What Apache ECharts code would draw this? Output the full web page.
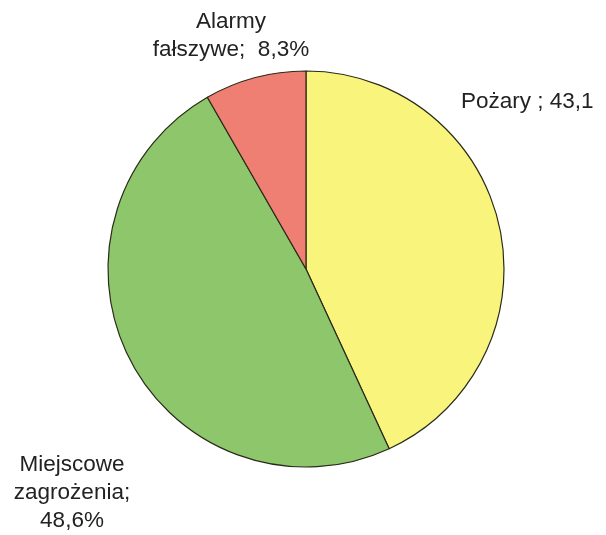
<!DOCTYPE html>
<html><head><meta charset="utf-8">
<script src="https://cdn.jsdelivr.net/npm/echarts@6/dist/echarts.min.js"></script>
<style>html,body{margin:0;padding:0;background:#fff}#c{width:606px;height:535px}</style>
</head><body><div id="c"></div>
<script>
var categories = ['Pożary', 'Miejscowe zagrożenia', 'Alarmy fałszywe'];
var values = [43.1, 48.6, 8.3];
var labelTexts = ['Pożary ; 43,1', 'Miejscowe\nzagrożenia;\n48,6%', 'Alarmy\nfałszywe;  8,3%'];
var colors = ['#f8f47c', '#8ec66b', '#ee7f72'];
var labelPos = [[461, 102, 'left'], [72, 493, 'center'], [231, 36, 'center']];

var chart = echarts.init(document.getElementById('c'));
chart.setOption({
  animation: false,
  series: [{
    type: 'pie',
    center: [306, 269],
    radius: [0, 198],
    startAngle: 90,
    clockwise: true,
    data: categories.map(function (c, i) {
      return { name: c, value: values[i], itemStyle: { color: colors[i] } };
    }),
    itemStyle: { borderColor: '#2a2a1a', borderWidth: 1.2 },
    label: {
      show: true,
      formatter: function (p) { return labelTexts[p.dataIndex]; },
      fontFamily: 'Liberation Sans, Arial, sans-serif',
      fontSize: 22.5,
      lineHeight: 28,
      color: '#222',
      overflow: 'none',
      width: 300
    },
    labelLine: { show: false },
    labelLayout: function (p) {
      var lp = labelPos[p.dataIndex];
      return { x: lp[0], y: lp[1], align: lp[2], verticalAlign: 'middle' };
    }
  }]
});
</script></body></html>
